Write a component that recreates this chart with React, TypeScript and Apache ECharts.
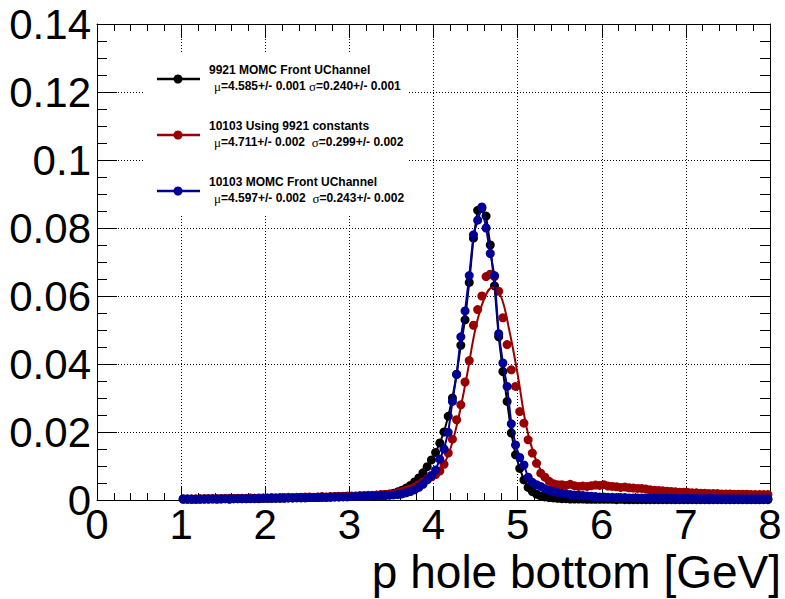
import React, { useEffect, useRef } from "react";
import * as echarts from "echarts";

// Histogram binning: 140 bins of width 0.05 from 1 to 8
const BIN_START = 1.0;
const BIN_WIDTH = 0.05;

// 9921 MOMC Front UChannel (black)
const blackVals = [
  0.0003, 0.0003, 0.0002, 0.0003, 0.0003, 0.0003, 0.0004, 0.0003, 0.0003, 0.0004,
  0.0004, 0.0003, 0.0004, 0.0004, 0.0004, 0.0004, 0.0005, 0.0004, 0.0005, 0.0005,
  0.0005, 0.0005, 0.0006, 0.0005, 0.0006, 0.0006, 0.0006, 0.0007, 0.0006, 0.0007,
  0.0007, 0.0007, 0.0008, 0.0008, 0.0008, 0.0009, 0.0009, 0.0009, 0.0010, 0.0010,
  0.0010, 0.0011, 0.0011, 0.0012, 0.0013, 0.0013, 0.0014, 0.0015, 0.0016, 0.0018,
  0.0020, 0.0024, 0.0029, 0.0035, 0.0043, 0.0053, 0.0065, 0.0080, 0.0098, 0.0118,
  0.0140, 0.0168, 0.0200, 0.0246, 0.0300, 0.0370, 0.0455, 0.0530, 0.0640, 0.0770,
  0.0852, 0.0858, 0.0835, 0.0750, 0.0630, 0.0480, 0.0378, 0.0290, 0.0197, 0.0133,
  0.0093, 0.0059, 0.0037, 0.0025, 0.0017, 0.0012, 0.0009, 0.0007, 0.0006, 0.0005,
  0.0004, 0.0004, 0.0003, 0.0003, 0.0003, 0.0003, 0.0002, 0.0002, 0.0002, 0.0002,
  0.0002, 0.0002, 0.0002, 0.0001, 0.0002, 0.0001, 0.0001, 0.0001, 0.0001, 0.0001,
  0.0001, 0.0001, 0.0001, 0.0001, 0.0001, 0.0001, 0.0001, 0.0001, 0.0001, 0.0001,
  0.0001, 0.0001, 0.0001, 0.0001, 0.0001, 0.0001, 0.0001, 0.0001, 0.0001, 0.0001,
  0.0001, 0.0001, 0.0001, 0.0001, 0.0001, 0.0001, 0.0001, 0.0001, 0.0001, 0.0001,
];

// 10103 Using 9921 constants (red)
const redVals = [
  0.0003, 0.0002, 0.0003, 0.0003, 0.0003, 0.0004, 0.0003, 0.0004, 0.0004, 0.0004,
  0.0004, 0.0005, 0.0004, 0.0005, 0.0005, 0.0005, 0.0006, 0.0005, 0.0006, 0.0006,
  0.0006, 0.0007, 0.0006, 0.0007, 0.0007, 0.0008, 0.0007, 0.0008, 0.0008, 0.0009,
  0.0009, 0.0008, 0.0009, 0.0010, 0.0009, 0.0010, 0.0010, 0.0011, 0.0011, 0.0012,
  0.0012, 0.0012, 0.0013, 0.0013, 0.0014, 0.0014, 0.0015, 0.0016, 0.0016, 0.0017,
  0.0018, 0.0021, 0.0025, 0.0029, 0.0033, 0.0038, 0.0045, 0.0053, 0.0062, 0.0068,
  0.0075, 0.0085, 0.0105, 0.0138, 0.0179, 0.0236, 0.0280, 0.0347, 0.0410, 0.0514,
  0.0560, 0.0600, 0.0657, 0.0664, 0.0657, 0.0614, 0.0536, 0.0457, 0.0383, 0.0334,
  0.0260, 0.0226, 0.0177, 0.0138, 0.0108, 0.0079, 0.0067, 0.0055, 0.0048, 0.0045,
  0.0045, 0.0043, 0.0046, 0.0042, 0.0040, 0.0041, 0.0040, 0.0042, 0.0044, 0.0043,
  0.0045, 0.0041, 0.0040, 0.0039, 0.0037, 0.0038, 0.0036, 0.0035, 0.0034, 0.0034,
  0.0032, 0.0030, 0.0029, 0.0028, 0.0027, 0.0026, 0.0025, 0.0024, 0.0023, 0.0023,
  0.0022, 0.0021, 0.0021, 0.0020, 0.0020, 0.0019, 0.0019, 0.0019, 0.0018, 0.0018,
  0.0018, 0.0017, 0.0017, 0.0017, 0.0017, 0.0016, 0.0016, 0.0016, 0.0016, 0.0016,
];

// 10103 MOMC Front UChannel (blue)
const blueVals = [
  0.0003, 0.0003, 0.0003, 0.0002, 0.0003, 0.0003, 0.0003, 0.0004, 0.0003, 0.0003,
  0.0004, 0.0003, 0.0004, 0.0004, 0.0004, 0.0004, 0.0004, 0.0005, 0.0004, 0.0005,
  0.0005, 0.0005, 0.0005, 0.0006, 0.0005, 0.0006, 0.0006, 0.0006, 0.0007, 0.0006,
  0.0007, 0.0007, 0.0007, 0.0008, 0.0008, 0.0008, 0.0009, 0.0009, 0.0009, 0.0009,
  0.0010, 0.0010, 0.0010, 0.0011, 0.0011, 0.0012, 0.0012, 0.0013, 0.0013, 0.0014,
  0.0015, 0.0016, 0.0018, 0.0021, 0.0025, 0.0030, 0.0037, 0.0046, 0.0059, 0.0072,
  0.0088, 0.0120, 0.0150, 0.0199, 0.0290, 0.0369, 0.0480, 0.0556, 0.0660, 0.0780,
  0.0823, 0.0862, 0.0800, 0.0725, 0.0660, 0.0489, 0.0403, 0.0334, 0.0224, 0.0162,
  0.0125, 0.0103, 0.0067, 0.0052, 0.0045, 0.0040, 0.0033, 0.0028, 0.0025, 0.0022,
  0.0020, 0.0018, 0.0016, 0.0015, 0.0014, 0.0013, 0.0012, 0.0011, 0.0010, 0.0009,
  0.0009, 0.0008, 0.0008, 0.0007, 0.0007, 0.0007, 0.0006, 0.0006, 0.0006, 0.0006,
  0.0006, 0.0005, 0.0006, 0.0005, 0.0005, 0.0005, 0.0005, 0.0005, 0.0004, 0.0005,
  0.0005, 0.0004, 0.0005, 0.0004, 0.0004, 0.0005, 0.0004, 0.0004, 0.0004, 0.0004,
  0.0004, 0.0004, 0.0004, 0.0004, 0.0003, 0.0004, 0.0004, 0.0004, 0.0004, 0.0004,
];

// Fit curve of the red histogram
const redFitX = [3.5, 3.7, 3.9, 4.0, 4.1, 4.2, 4.3, 4.4, 4.5, 4.6, 4.7, 4.8, 4.9, 5.0, 5.1, 5.2, 5.3, 5.4, 5.5];
const redFitY = [0.0018, 0.0030, 0.0055, 0.0072, 0.0095, 0.0150, 0.0245, 0.0370, 0.0505, 0.0590, 0.0625, 0.0600, 0.0500, 0.0370, 0.0220, 0.0130, 0.0078, 0.0055, 0.0045];

// Axis ticks
const X_MIN = 0, X_MAX = 8, X_STEP = 1;
const Y_MIN = 0, Y_MAX = 0.14, Y_STEP = 0.02;

// Legend texts
const legendNames = ["9921 MOMC Front UChannel", "10103 Using 9921 constants", "10103 MOMC Front UChannel"];
const legendMu = ["4.585+/- 0.001", "4.711+/- 0.002", "4.597+/- 0.002"];
const legendSigma = ["0.240+/- 0.001", "0.299+/- 0.002", "0.243+/- 0.002"];
const legendSep = [" ", "  ", "  "];
const xTitle = "p hole bottom [GeV]";

const COLORS = ["#000000", "#990000", "#000099"];
const FONT = "Liberation Sans";

function toPoints(vals: number[]) {
  return vals.map((v, i) => [BIN_START + BIN_WIDTH * (i + 0.5), v]);
}

export default function App() {
  const ref = useRef<HTMLDivElement>(null);
  useEffect(() => {
    if (!ref.current) return;
    const chart = echarts.init(ref.current, null, { renderer: "svg" });

    const gridLeft = 97, gridTop = 24, gridW = 673, gridH = 476;

    const tickColor = { color: "#000", width: 1 };
    const xBase = {
      type: "value",
      min: X_MIN,
      max: X_MAX,
      interval: X_STEP,
      axisLine: { show: true, onZero: false, lineStyle: tickColor },
      axisTick: { show: true, inside: true, length: 14, lineStyle: tickColor },
      minorTick: { show: true, splitNumber: 5, length: 7, lineStyle: tickColor },
    };
    const yBase = {
      type: "value",
      min: Y_MIN,
      max: Y_MAX,
      interval: Y_STEP,
      axisLine: { show: true, onZero: false, lineStyle: tickColor },
      axisTick: { show: true, inside: true, length: 20, lineStyle: tickColor },
      minorTick: { show: true, splitNumber: 4, length: 10, lineStyle: tickColor },
    };
    const gridLine = { show: true, lineStyle: { color: "#000", width: 1, type: [1, 2] } };

    const legendGraphics: any[] = [
      { type: "rect", shape: { x: 143, y: 52, width: 264, height: 162 }, style: { fill: "#fff" }, z: 100 },
    ];
    const markerY = [79, 135, 191];
    legendNames.forEach((name, i) => {
      const my = markerY[i];
      legendGraphics.push(
        { type: "line", shape: { x1: 157, y1: my, x2: 200, y2: my }, style: { stroke: COLORS[i], lineWidth: 2.5 }, z: 101 },
        { type: "circle", shape: { cx: 178, cy: my, r: 4.5 }, style: { fill: COLORS[i] }, z: 102 },
        {
          type: "text",
          x: 209,
          y: my - 9,
          z: 102,
          style: { text: name, fontSize: 12, fontWeight: "bold", fontFamily: FONT, fill: "#000", verticalAlign: "middle" },
        },
        {
          type: "text",
          x: 214,
          y: my + 7,
          z: 102,
          style: {
            text: `{g|μ}=${legendMu[i]}${legendSep[i]}{g|σ}=${legendSigma[i]}`,
            fontSize: 12,
            fontWeight: "bold",
            fontFamily: FONT,
            fill: "#000",
            verticalAlign: "middle",
            rich: { g: { fontFamily: "Liberation Serif", fontSize: 13, fontWeight: "normal", fill: "#000" } },
          },
        }
      );
    });

    const option: any = {
      animation: false,
      backgroundColor: "#fff",
      grid: { left: gridLeft, top: gridTop, width: gridW, height: gridH, show: false },
      xAxis: [
        {
          ...xBase,
          position: "bottom",
          axisLabel: { show: true, fontSize: 42, color: "#000", fontFamily: FONT, margin: 3 },
          splitLine: gridLine,
        },
        { ...xBase, position: "top", axisLabel: { show: false }, splitLine: { show: false } },
      ],
      yAxis: [
        {
          ...yBase,
          position: "left",
          axisLabel: {
            show: true,
            fontSize: 42,
            color: "#000",
            fontFamily: FONT,
            margin: 6,
            formatter: (v: number) => (v === 0 ? "0" : String(+v.toFixed(2))),
          },
          splitLine: gridLine,
        },
        { ...yBase, position: "right", axisLabel: { show: false }, splitLine: { show: false } },
      ],
      series: [
        {
          name: legendNames[0],
          type: "line",
          data: toPoints(blackVals),
          symbol: "circle",
          symbolSize: 9,
          itemStyle: { color: COLORS[0] },
          lineStyle: { color: COLORS[0], width: 2 },
          z: 2,
        },
        {
          name: legendNames[1],
          type: "scatter",
          data: toPoints(redVals),
          symbol: "circle",
          symbolSize: 9,
          itemStyle: { color: COLORS[1], opacity: 1 },
          z: 3,
        },
        {
          name: legendNames[1] + " fit",
          type: "line",
          data: redFitX.map((x, i) => [x, redFitY[i]]),
          showSymbol: false,
          smooth: 0.4,
          lineStyle: { color: COLORS[1], width: 2 },
          z: 3,
        },
        {
          name: legendNames[2],
          type: "line",
          data: toPoints(blueVals),
          symbol: "circle",
          symbolSize: 9,
          itemStyle: { color: COLORS[2] },
          lineStyle: { color: COLORS[2], width: 2 },
          z: 4,
        },
      ],
      graphic: [
        ...legendGraphics,
        {
          type: "text",
          x: 781,
          y: 572,
          z: 100,
          style: { text: xTitle, fontSize: 46, fontFamily: FONT, fill: "#000", align: "right", verticalAlign: "middle" },
        },
      ],
    };
    chart.setOption(option);
    return () => chart.dispose();
  }, []);

  return (
    <div
      ref={ref}
      style={{ position: "fixed", left: 0, top: 0, width: 785, height: 599, background: "#fff" }}
    />
  );
}
